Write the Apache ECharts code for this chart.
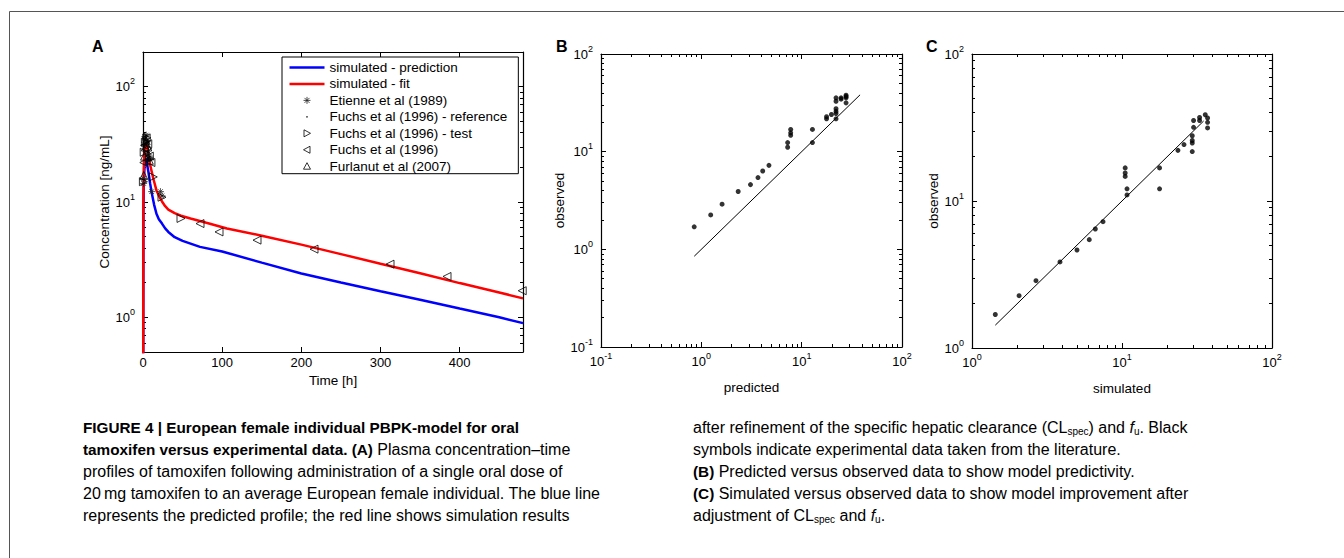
<!DOCTYPE html>
<html>
<head>
<meta charset="utf-8">
<script src="https://cdn.jsdelivr.net/npm/echarts@6.0.0/dist/echarts.min.js"></script>
<style>
html,body{margin:0;padding:0;background:#ffffff;}
#chart{width:1344px;height:558px;}
</style>
</head>
<body>
<div id="chart"></div>
<script>
// ===== Panel A: plasma concentration-time profiles =====
const predTime = [0, 0.5, 1, 2, 3, 4, 5, 6.7, 9, 11, 14, 17, 20, 24, 28, 32, 40, 50, 72, 100, 150, 200, 250, 300, 350, 400, 450, 480];
const predConc = [0.01, 8, 14, 21, 24, 23.5, 21.5, 18.5, 14.5, 12, 9.5, 7.9, 7.1, 6.5, 5.9, 5.5, 4.95, 4.6, 4.08, 3.72, 2.98, 2.40, 2.0, 1.68, 1.42, 1.19, 1.0, 0.89];
const fitTime = [0, 0.5, 1, 2, 3, 4, 5, 6.7, 9, 13, 17, 21, 24, 28, 32, 40, 48, 60, 80, 106, 150, 200, 250, 300, 350, 400, 450, 480];
const fitConc = [0.01, 10, 19, 28, 31.5, 32, 30, 26, 21, 16, 12.6, 11, 10.1, 9.2, 8.6, 8.0, 7.6, 7.2, 6.6, 5.9, 5.1, 4.27, 3.53, 2.91, 2.41, 1.98, 1.64, 1.46];
const etienneTime = [0.5, 0.8, 2, 2.5, 3, 4, 4.5, 6, 7, 8, 11, 22, 24];
const etienneConc = [16, 14.5, 33, 37, 35, 38, 34, 26, 24, 25, 12.3, 12.3, 11.3];
const fuchsRefTime = [1.5, 3, 5, 7, 9];
const fuchsRefConc = [30, 36, 33, 27, 23];
const fuchsTestTime = [0.5, 1.5, 3, 5, 6, 8, 13, 24, 48];
const fuchsTestConc = [15, 27, 33, 36, 29, 24, 16.5, 11, 7.2];
const fuchsTime = [1, 2, 4, 6, 8, 10, 72, 96, 144, 216, 312, 384, 479];
const fuchsConc = [22, 31, 36, 32, 25, 22, 6.5, 5.5, 4.67, 3.9, 2.89, 2.26, 1.70];
const furlanutTime = [1, 2, 3, 4, 6, 8];
const furlanutConc = [17, 25, 30, 34, 30, 23];
const timeTicks = [0, 100, 200, 300, 400];
const legendNames = ['simulated - prediction', 'simulated - fit', 'Etienne et al (1989)', 'Fuchs et al (1996) - reference', 'Fuchs et al (1996) - test', 'Fuchs et al (1996)', 'Furlanut et al (2007)'];

// ===== Panel B: predicted vs observed =====
const predictedB = [0.849, 1.24, 1.61, 2.33, 3.09, 3.67, 4.09, 4.72, 7.25, 7.25, 7.77, 7.77, 7.77, 12.8, 12.8, 17.7, 17.7, 19.8, 22.0, 22.0, 22.0, 22.0, 22.0, 22.0, 24.7, 24.7, 27.7, 27.7, 27.7, 27.7];
const observedB  = [1.70, 2.25, 2.90, 3.91, 4.60, 5.43, 6.34, 7.24, 12.4, 11.1, 16.9, 15.6, 14.7, 16.9, 12.4, 22.8, 21.7, 24.0, 27.5, 25.9, 24.6, 21.7, 35.6, 32.8, 35.6, 34.5, 37.8, 36.7, 35.6, 31.6];
const identityB = [0.85, 38.2];

// ===== Panel C: simulated vs observed =====
const simulatedC = [1.43, 2.06, 2.67, 3.86, 5.01, 6.05, 6.64, 7.47, 10.8, 10.8, 10.5, 10.5, 10.5, 17.8, 17.8, 23.6, 25.9, 29.4, 29.4, 29.4, 29.4, 30.0, 30.0, 32.9, 32.9, 35.9, 37.2, 37.2, 37.2];
const observedC  = [1.69, 2.27, 2.87, 3.85, 4.64, 5.46, 6.45, 7.23, 11.0, 12.1, 16.8, 15.5, 14.7, 16.8, 12.1, 22.1, 24.2, 27.8, 25.8, 24.8, 21.7, 35.3, 31.7, 37.0, 35.3, 38.6, 36.7, 34.3, 31.4];
const identityC = [1.43, 35];

// ===== Caption =====
const captionLeft = [
  [['b', 'FIGURE 4 | European female individual PBPK-model for oral']],
  [['b', 'tamoxifen versus experimental data. (A)'], ['r', ' Plasma concentration\u2013time']],
  [['r', 'profiles of tamoxifen following administration of a single oral dose of']],
  [['r', '20\u2009mg tamoxifen to an average European female individual. The blue line']],
  [['r', 'represents the predicted profile; the red line shows simulation results']]
];
const captionRight = [
  [['r', 'after refinement of the specific hepatic clearance (CL'], ['sub', 'spec'], ['r', ') and '], ['i', 'f'], ['sub', 'u'], ['r', '. Black']],
  [['r', 'symbols indicate experimental data taken from the literature.']],
  [['b', '(B)'], ['r', ' Predicted versus observed data to show model predictivity.']],
  [['b', '(C)'], ['r', ' Simulated versus observed data to show model improvement after']],
  [['r', 'adjustment of CL'], ['sub', 'spec'], ['r', ' and '], ['i', 'f'], ['sub', 'u'], ['r', '.']]
];

// ---------- helpers ----------
const FONT = '"Liberation Sans", Arial, Helvetica, sans-serif';
const CAPFONT = '"Liberation Sans", Arial, sans-serif';
const zip = (a, b) => a.map((v, i) => [v, b[i]]);
const isDecade = v => { const l = Math.log10(v); return Math.abs(l - Math.round(l)) < 1e-6; };
const supLabel = v => '{b|10}{s|' + Math.round(Math.log10(v)) + '}';
const richSup = {
  b: {fontFamily: FONT, fontSize: 13, color: '#000', lineHeight: 20},
  s: {fontFamily: FONT, fontSize: 9, color: '#000', lineHeight: 9, verticalAlign: 'top'}
};
const NAME = {fontFamily: FONT, fontSize: 13.5, color: '#000'};
function minorLog(lo, hi) {
  const out = [];
  for (let d = Math.floor(Math.log10(lo)); d < Math.ceil(Math.log10(hi)); d++) {
    for (let k = 2; k <= 9; k++) {
      const v = k * Math.pow(10, d);
      if (v > lo * 1.0001 && v < hi * 0.9999) out.push(v);
    }
  }
  return out;
}
const grids = [], xAxes = [], yAxes = [];
function addGrid(r) { grids.push({left: r[0], top: r[1], width: r[2], height: r[3], containLabel: false}); return grids.length - 1; }
function tick(len, custom) {
  const t = {show: true, inside: true, length: len, lineStyle: {color: '#000', width: 1}};
  if (custom) t.customValues = custom;
  return t;
}
function decLabel(margin) {
  return {show: true, margin: margin, formatter: v => isDecade(v) ? supLabel(v) : '', rich: richSup, showMinLabel: true, showMaxLabel: true};
}
function ax(g, position, type, lo, hi, extra) {
  const a = {
    gridIndex: g, position: position, type: type, min: lo, max: hi,
    axisLine: {show: true, onZero: false, lineStyle: {color: '#000', width: 1.2}},
    axisTick: {show: false}, axisLabel: {show: false},
    splitLine: {show: false}, silent: true
  };
  if (type === 'log') a.logBase = 10;
  return Object.assign(a, extra || {});
}
const NOLINE = {show: false, onZero: false};
function logPanel(rect, lo, hi, xName, yName, xGap, yGap) {
  const g = addGrid(rect), g2 = addGrid(rect);
  const xi = xAxes.push(ax(g, 'bottom', 'log', lo, hi, {axisTick: tick(5), axisLabel: decLabel(4), name: xName, nameLocation: 'middle', nameGap: xGap, nameTextStyle: NAME})) - 1;
  xAxes.push(ax(g, 'top', 'log', lo, hi, {axisTick: tick(5)}));
  const yi = yAxes.push(ax(g, 'left', 'log', lo, hi, {axisTick: tick(5), axisLabel: decLabel(8), name: yName, nameLocation: 'middle', nameGap: yGap, nameTextStyle: NAME})) - 1;
  yAxes.push(ax(g, 'right', 'log', lo, hi, {axisTick: tick(5)}));
  const mv = minorLog(lo, hi).map(Math.log10);
  ['bottom', 'top'].forEach(p => xAxes.push(ax(g2, p, 'value', Math.log10(lo), Math.log10(hi), {axisLine: NOLINE, axisTick: tick(3, mv)})));
  ['left', 'right'].forEach(p => yAxes.push(ax(g2, p, 'value', Math.log10(lo), Math.log10(hi), {axisLine: NOLINE, axisTick: tick(3, mv)})));
  return {xi: xi, yi: yi};
}

// ---------- Panel A axes ----------
const rectA = [143, 52, 380, 300];
const gA = addGrid(rectA), gA2 = addGrid(rectA);
const axAX = xAxes.push(ax(gA, 'bottom', 'value', 0, 480, {
  axisTick: tick(5, timeTicks),
  axisLabel: {show: true, customValues: timeTicks, margin: 4, fontFamily: FONT, fontSize: 13, color: '#000'},
  name: 'Time [h]', nameLocation: 'middle', nameGap: 19, nameTextStyle: NAME})) - 1;
xAxes.push(ax(gA, 'top', 'value', 0, 480, {axisTick: tick(5, timeTicks)}));
const axAY = yAxes.push(ax(gA, 'left', 'log', 0.5, 200, {axisTick: tick(5), axisLabel: decLabel(8),
  name: 'Concentration [ng/mL]', nameLocation: 'middle', nameGap: 31, nameTextStyle: NAME})) - 1;
yAxes.push(ax(gA, 'right', 'log', 0.5, 200, {axisTick: tick(5)}));
xAxes.push(ax(gA2, 'bottom', 'value', 0, 480, {show: false, axisLine: NOLINE}));
const mvA = minorLog(0.5, 200).map(Math.log10);
['left', 'right'].forEach(p => yAxes.push(ax(gA2, p, 'value', Math.log10(0.5), Math.log10(200), {axisLine: NOLINE, axisTick: tick(3, mvA)})));

// ---------- Panels B, C axes ----------
const pB = logPanel([601, 54, 301, 293], 0.1, 100, 'predicted', 'observed', 33, 27);
const pC = logPanel([972, 54, 300, 294], 1, 100, 'simulated', 'observed', 33, 28);

const HOLLOW = {color: 'rgba(0,0,0,0)', borderColor: '#000', borderWidth: 1};
const ASTERISK = 'path://M5,0L5,10M0,5L10,5M1.6,1.6L8.4,8.4M1.6,8.4L8.4,1.6';

const series = [
  {type: 'line', name: legendNames[0], xAxisIndex: axAX, yAxisIndex: axAY, data: zip(predTime, predConc),
    symbol: 'none', clip: true, lineStyle: {color: '#0000ff', width: 2.5}, itemStyle: {color: '#0000ff'}, z: 2},
  {type: 'line', name: legendNames[1], xAxisIndex: axAX, yAxisIndex: axAY, data: zip(fitTime, fitConc),
    symbol: 'none', clip: true, lineStyle: {color: '#ff0000', width: 2.5}, itemStyle: {color: '#ff0000'}, z: 3},
  {type: 'scatter', name: legendNames[2], xAxisIndex: axAX, yAxisIndex: axAY, data: zip(etienneTime, etienneConc),
    symbol: ASTERISK, symbolSize: 7, itemStyle: {color: 'rgba(0,0,0,0)', borderColor: '#222', borderWidth: 1}, z: 4},
  {type: 'scatter', name: legendNames[3], xAxisIndex: axAX, yAxisIndex: axAY, data: zip(fuchsRefTime, fuchsRefConc),
    symbol: 'circle', symbolSize: 2.5, itemStyle: {color: '#000'}, z: 4},
  {type: 'scatter', name: legendNames[4], xAxisIndex: axAX, yAxisIndex: axAY, data: zip(fuchsTestTime, fuchsTestConc),
    symbol: 'triangle', symbolRotate: -90, symbolSize: 8, itemStyle: HOLLOW, z: 4},
  {type: 'scatter', name: legendNames[5], xAxisIndex: axAX, yAxisIndex: axAY, data: zip(fuchsTime, fuchsConc),
    symbol: 'triangle', symbolRotate: 90, symbolSize: 8, itemStyle: HOLLOW, z: 4},
  {type: 'scatter', name: legendNames[6], xAxisIndex: axAX, yAxisIndex: axAY, data: zip(furlanutTime, furlanutConc),
    symbol: 'triangle', symbolSize: 8, itemStyle: HOLLOW, z: 4},
  {type: 'line', name: 'identity B', xAxisIndex: pB.xi, yAxisIndex: pB.yi, data: zip(identityB, identityB),
    symbol: 'none', lineStyle: {color: '#000', width: 1}, z: 2},
  {type: 'scatter', name: 'predicted vs observed', xAxisIndex: pB.xi, yAxisIndex: pB.yi, data: zip(predictedB, observedB),
    symbol: 'circle', symbolSize: 5, itemStyle: {color: '#000'}, z: 3},
  {type: 'line', name: 'identity C', xAxisIndex: pC.xi, yAxisIndex: pC.yi, data: zip(identityC, identityC),
    symbol: 'none', lineStyle: {color: '#000', width: 1}, z: 2},
  {type: 'scatter', name: 'simulated vs observed', xAxisIndex: pC.xi, yAxisIndex: pC.yi, data: zip(simulatedC, observedC),
    symbol: 'circle', symbolSize: 5, itemStyle: {color: '#000'}, z: 3}
];

// ---------- legend icons (35 x 8 boxes, symbol centred) ----------
const BOX = 'M0,0L0,0M35,8L35,8';
const legendIcons = [
  'path://' + BOX + 'M0,2.75H35V5.25H0Z',
  'path://' + BOX + 'M0,2.75H35V5.25H0Z',
  'path://' + BOX + 'M17.5,0.5V7.5M14,4H21M15,1.5L20,6.5M15,6.5L20,1.5',
  'path://' + BOX + 'M16.6,4A0.9,0.9 0 1 1 18.4,4A0.9,0.9 0 1 1 16.6,4Z',
  'path://' + BOX + 'M14.5,0.5L21,4L14.5,7.5Z',
  'path://' + BOX + 'M20.5,0.5L14,4L20.5,7.5Z',
  'path://' + BOX + 'M17.5,0.5L21,7L14,7Z'
];
const legendData = legendNames.map((n, i) => ({name: n, icon: legendIcons[i], symbolRotate: 0}));

// ---------- caption & decorations ----------
const capRich = {
  b: {fontFamily: CAPFONT, fontSize: 15.3, fontWeight: 'bold', color: '#231f20', lineHeight: 18},
  r: {fontFamily: CAPFONT, fontSize: 16, color: '#333', lineHeight: 18},
  i: {fontFamily: CAPFONT, fontSize: 16, fontStyle: 'italic', color: '#333', lineHeight: 18},
  sub: {fontFamily: CAPFONT, fontSize: 10, color: '#333', lineHeight: 10, verticalAlign: 'bottom'}
};
const richLine = parts => parts.map(p => '{' + p[0] + '|' + p[1] + '}').join('');
const graphic = [
  {type: 'line', silent: true, shape: {x1: 9.5, y1: 11.5, x2: 1344, y2: 11.5}, style: {stroke: '#555', lineWidth: 1}},
  {type: 'line', silent: true, shape: {x1: 9.5, y1: 11.5, x2: 9.5, y2: 558}, style: {stroke: '#555', lineWidth: 1}}
];
[['A', 92, 46], ['B', 556, 46], ['C', 926, 46]].forEach(l => graphic.push({
  type: 'text', silent: true, x: l[1], y: l[2],
  style: {text: l[0], fontFamily: FONT, fontSize: 16, fontWeight: 'bold', fill: '#000',
    align: 'left', verticalAlign: 'middle', textAlign: 'left', textVerticalAlign: 'middle'}
}));
const capY0 = 427, capDy = 22;
function addCaption(lines, x) {
  lines.forEach((parts, i) => graphic.push({
    type: 'text', silent: true, x: x, y: capY0 + i * capDy,
    style: {text: richLine(parts), rich: capRich, align: 'left', verticalAlign: 'middle', textAlign: 'left', textVerticalAlign: 'middle'}
  }));
}
addCaption(captionLeft, 83);
addCaption(captionRight, 693);

const chart = echarts.init(document.getElementById('chart'), null, {renderer: 'svg'});
chart.setOption({
  animation: false,
  backgroundColor: '#ffffff',
  textStyle: {fontFamily: FONT},
  grid: grids,
  xAxis: xAxes,
  yAxis: yAxes,
  legend: {
    data: legendData, orient: 'vertical', left: 282, top: 57,
    backgroundColor: '#fff', borderColor: '#000', borderWidth: 1, borderRadius: 0,
    padding: [3.5, 11, 0.5, 7], itemWidth: 35, itemHeight: 8, itemGap: 2.45,
    textStyle: {fontFamily: FONT, fontSize: 13.5, color: '#000', lineHeight: 14},
    itemStyle: {borderWidth: 1}, symbolRotate: 0, selectedMode: false, z: 10
  },
  series: series,
  graphic: graphic
});
</script>
</body>
</html>
